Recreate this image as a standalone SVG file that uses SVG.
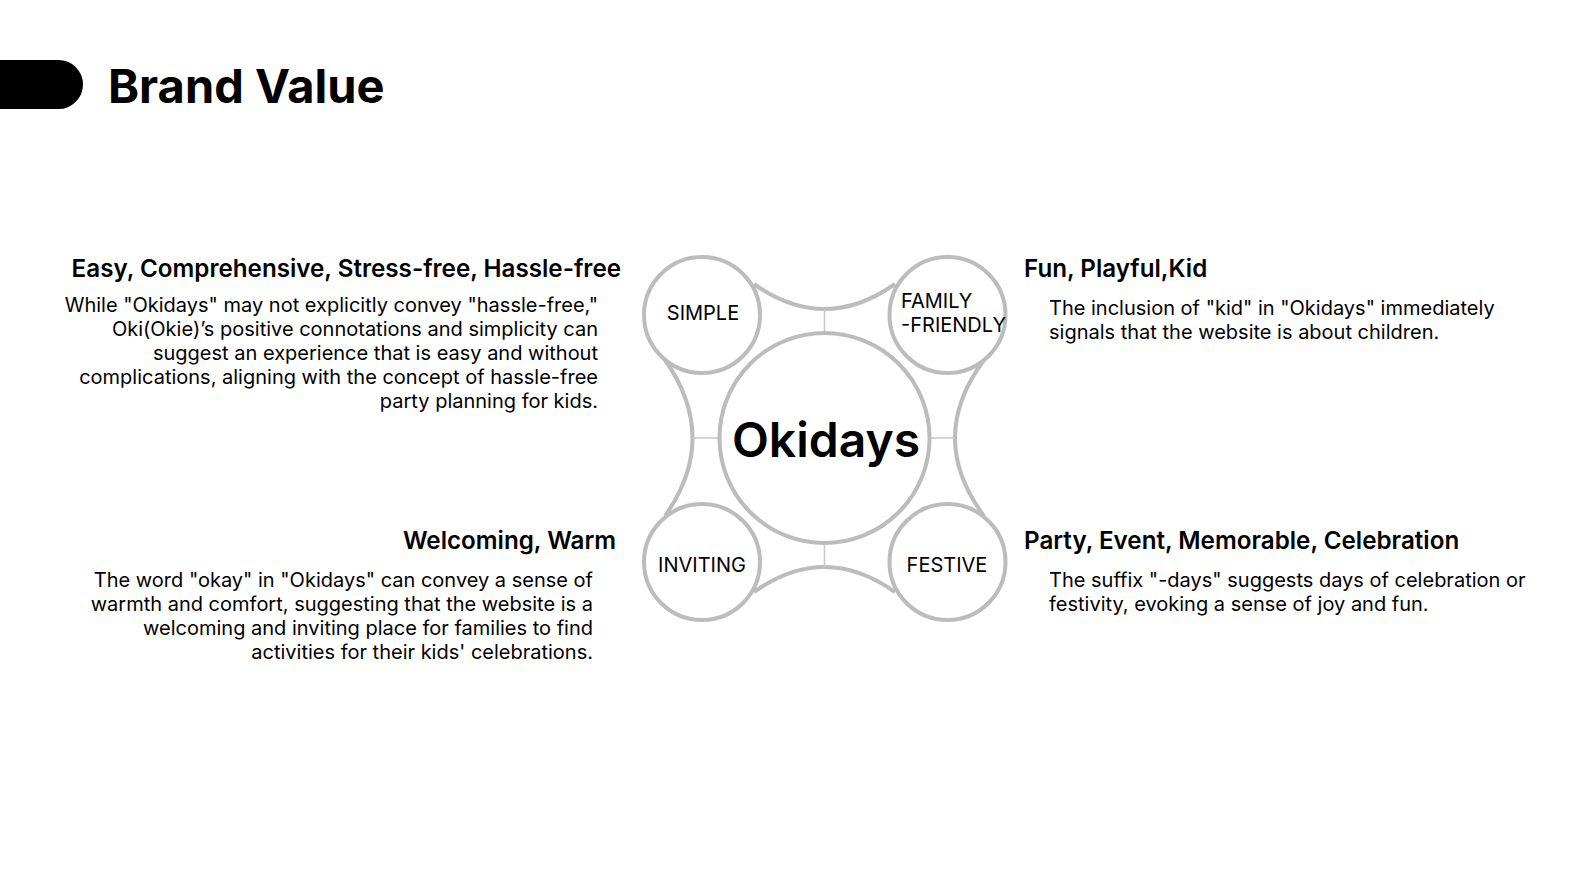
<svg xmlns="http://www.w3.org/2000/svg" width="1595" height="888" viewBox="0 0 1595 888">
<style>
text{font-family:Inter,"Noto Sans","Liberation Sans",sans-serif;fill:#000}
.h{font-size:24.2px;font-weight:600}
.p{font-size:20px;font-weight:400}
.r{text-anchor:end}
.lbl{font-size:20px;font-weight:400}
.ring{fill:#fff;stroke:#bcbcbc;stroke-width:4}
.arc{fill:none;stroke:#bcbcbc;stroke-width:4}
.tick{fill:none;stroke:#c8c8c8;stroke-width:1.5}
</style>
<rect x="0" y="0" width="1595" height="888" fill="#fff"/>
<g id="title">
<rect x="-60" y="60" width="143" height="49" rx="24.5" fill="#000"/>
<text x="108" y="103" style="font-size:47px;font-weight:700">Brand Value</text>
</g>
<g id="connectors">
<path class="arc" d="M754 284 Q824.5 334 895 284"/>
<path class="arc" d="M754 592 Q824.5 542 895 592"/>
<path class="arc" d="M665 360 Q720 438 665 516"/>
<path class="arc" d="M984 360 Q926 438 984 516"/>
<path class="tick" d="M824.5 309 V333 M824.5 543 V567 M692 438 H720 M930 438 H955"/>
</g>
<g id="node-okidays">
<circle class="ring" cx="824.5" cy="438" r="105"/>
<text x="826" y="457" text-anchor="middle" style="font-size:48px;font-weight:600">Okidays</text>
</g>
<g id="node-simple">
<circle class="ring" cx="702" cy="315" r="58"/>
<text class="lbl" x="703" y="320" text-anchor="middle">SIMPLE</text>
</g>
<g id="node-family">
<circle class="ring" cx="947.5" cy="315" r="58"/>
<text class="lbl" x="901" y="308">FAMILY</text>
<text class="lbl" x="901" y="332">-FRIENDLY</text>
</g>
<g id="node-inviting">
<circle class="ring" cx="702" cy="562" r="58"/>
<text class="lbl" x="702" y="572" text-anchor="middle">INVITING</text>
</g>
<g id="node-festive">
<circle class="ring" cx="947.5" cy="562" r="58"/>
<text class="lbl" x="947" y="572" text-anchor="middle">FESTIVE</text>
</g>
<g id="text-easy">
<text class="h r" x="621" y="277">Easy, Comprehensive, Stress-free, Hassle-free</text>
<text class="p r" x="598" y="312">While "Okidays" may not explicitly convey "hassle-free,"</text>
<text class="p r" x="598" y="336">Oki(Okie)’s positive connotations and simplicity can</text>
<text class="p r" x="598" y="360">suggest an experience that is easy and without</text>
<text class="p r" x="598" y="384">complications, aligning with the concept of hassle-free</text>
<text class="p r" x="598" y="408">party planning for kids.</text>
</g>
<g id="text-fun">
<text class="h" x="1024" y="277">Fun, Playful,Kid</text>
<text class="p" x="1049" y="315">The inclusion of "kid" in "Okidays" immediately</text>
<text class="p" x="1049" y="339">signals that the website is about children.</text>
</g>
<g id="text-welcoming">
<text class="h r" x="616" y="549">Welcoming, Warm</text>
<text class="p r" x="593" y="587">The word "okay" in "Okidays" can convey a sense of</text>
<text class="p r" x="593" y="611">warmth and comfort, suggesting that the website is a</text>
<text class="p r" x="593" y="635">welcoming and inviting place for families to find</text>
<text class="p r" x="593" y="659">activities for their kids' celebrations.</text>
</g>
<g id="text-party">
<text class="h" x="1024" y="549">Party, Event, Memorable, Celebration</text>
<text class="p" x="1049" y="587">The suffix "-days" suggests days of celebration or</text>
<text class="p" x="1049" y="611">festivity, evoking a sense of joy and fun.</text>
</g>
</svg>
